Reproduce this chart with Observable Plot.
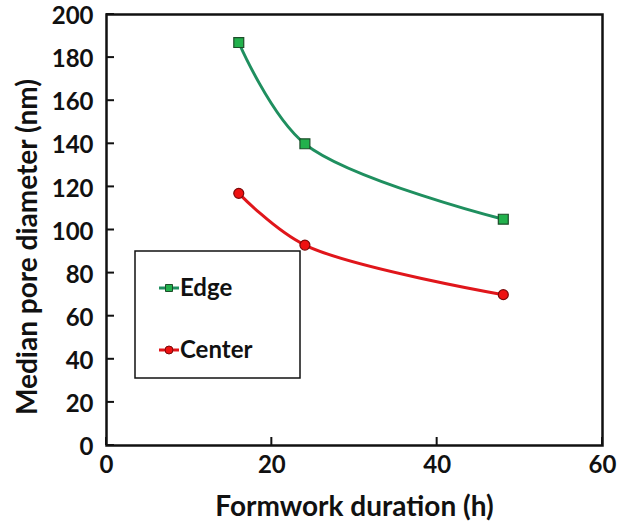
<!DOCTYPE html>
<html>
<head>
<meta charset="utf-8">
<script src="https://cdn.jsdelivr.net/npm/d3@7"></script>
<script src="https://cdn.jsdelivr.net/npm/@observablehq/plot@0.6"></script>
<style>
  html, body { margin: 0; padding: 0; background: #fff; }
  #chart svg { font-family: Lato, "Open Sans", sans-serif; font-weight: bold; }
</style>
</head>
<body>
<div id="chart"></div>
<script>
// Formwork duration (h)
const durations = [16, 24, 48];
// Median pore diameter (nm) at the edge and centre of the specimens
const edgeValues = [187, 140, 105];
const centerValues = [117, 93, 70];
const seriesNames = ["Edge", "Center"];
const xTicks = [0, 20, 40, 60];
const yTicks = [0, 20, 40, 60, 80, 100, 120, 140, 160, 180, 200];

const edge = durations.map((d, i) => ({x: d, y: edgeValues[i], s: seriesNames[0]}));
const center = durations.map((d, i) => ({x: d, y: centerValues[i], s: seriesNames[1]}));

const styles = {
  Edge: {line: "#1f8f5f", fill: "#22b14c", stroke: "#1d4d2a", symbol: "square", r: 5.6},
  Center: {line: "#e0161b", fill: "#ee1111", stroke: "#7a0a0a", symbol: "circle", r: 5}
};

const W = 642, H = 528;
const plot = Plot.plot({
  width: W,
  height: H,
  marginLeft: 106,
  marginRight: 40,
  marginTop: 14,
  marginBottom: 83,
  style: {fontSize: "24px", fontWeight: "bold", color: "#111"},
  x: {domain: [0, 60]},
  y: {domain: [0, 200]},
  marks: [
    Plot.frame({stroke: "#111", strokeWidth: 2.5}),
    Plot.axisX(xTicks, {tickSize: 0, tickPadding: 10, fontSize: 24, fontWeight: "bold", label: null}),
    Plot.axisY(yTicks, {tickSize: 0, tickPadding: 13, dy: 2, fontSize: 24, fontWeight: "bold", label: null}),
    Plot.line(edge, {x: "x", y: "y", stroke: styles.Edge.line, strokeWidth: 3, curve: "catmull-rom"}),
    Plot.line(center, {x: "x", y: "y", stroke: styles.Center.line, strokeWidth: 3, curve: "catmull-rom"}),
    Plot.dot(edge, {x: "x", y: "y", symbol: "square", r: styles.Edge.r, fill: styles.Edge.fill, stroke: styles.Edge.stroke, strokeWidth: 1.2}),
    Plot.dot(center, {x: "x", y: "y", symbol: "circle", r: styles.Center.r, fill: styles.Center.fill, stroke: styles.Center.stroke, strokeWidth: 1.2}),
    Plot.text(["Formwork duration (h)"], {frameAnchor: "bottom", textAnchor: "middle", dy: 70, fontSize: 28, fontWeight: "bold", fill: "#111"}),
    Plot.text(["Median pore diameter (nm)"], {frameAnchor: "left", textAnchor: "middle", dx: -78, dy: 17, rotate: -90, fontSize: 28, fontWeight: "bold", fill: "#111"})
  ]
});

const svg = d3.select(plot);
const xs = plot.scale("x");
const ys = plot.scale("y");
const TICK = 8;

// Inward-pointing tick marks, placed with the plot's own scales
const ticks = svg.append("g").attr("stroke", "#111").attr("stroke-width", 2);
const x0 = xs.apply(0), y0 = ys.apply(0);
xTicks.forEach((t) => {
  const px = xs.apply(t);
  ticks.append("line").attr("x1", px).attr("x2", px).attr("y1", y0).attr("y2", y0 - TICK);
});
yTicks.forEach((t) => {
  const py = ys.apply(t);
  ticks.append("line").attr("x1", x0).attr("x2", x0 + TICK).attr("y1", py).attr("y2", py);
});

// Boxed legend inside the plotting area
const lg = svg.append("g").attr("transform", "translate(135,251)");
lg.append("rect").attr("width", 165).attr("height", 127)
  .attr("fill", "#fff").attr("stroke", "#111").attr("stroke-width", 1.5);
seriesNames.forEach((name, i) => {
  const st = styles[name];
  const cy = 37 + i * 62;
  lg.append("line").attr("x1", 24).attr("x2", 44).attr("y1", cy).attr("y2", cy)
    .attr("stroke", st.line).attr("stroke-width", 3);
  const sym = d3.symbol().type(st.symbol === "square" ? d3.symbolSquare : d3.symbolCircle)
    .size(st.symbol === "square" ? 49 : 50);
  lg.append("path").attr("d", sym()).attr("transform", `translate(34,${cy})`)
    .attr("fill", st.fill).attr("stroke", st.stroke).attr("stroke-width", 1);
  lg.append("text").attr("x", 45).attr("y", cy).attr("dy", "0.35em")
    .attr("text-anchor", "start")
    .attr("font-size", 24).attr("font-weight", "bold").attr("fill", "#111").text(name);
});

document.getElementById("chart").appendChild(plot);
</script>
</body>
</html>
